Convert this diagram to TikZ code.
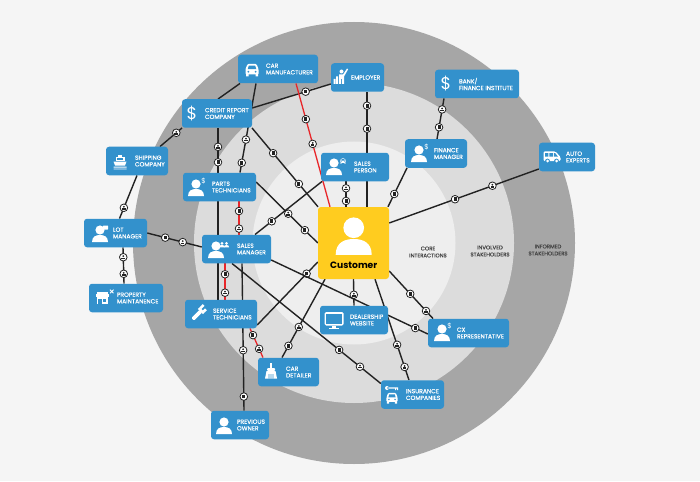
\documentclass[tikz,border=0pt]{standalone}
\usepackage{fontspec}
\setmainfont{Poppins}
\newfontfamily\stakefont[FakeBold=.25]{Poppins}
\usetikzlibrary{
    positioning,
    backgrounds
}
\definecolor{paper}{HTML}{F5F5F5}
\definecolor{ringouter}{HTML}{A6A6A6}
\definecolor{ringmiddle}{HTML}{DCDCDC}
\definecolor{ringinner}{HTML}{EEEEEE}
\definecolor{stakeblue}{HTML}{3391CC}
\definecolor{customeryellow}{HTML}{FFCC1F}
\definecolor{linkdark}{HTML}{222222}
\definecolor{linkred}{HTML}{E8262A}
\definecolor{ringtext}{HTML}{444444}
\tikzset{
    % Stakeholder box
    stake/.style={
        rectangle,
        rounded corners=3pt,
        minimum height=28.5pt,
        fill=stakeblue,
        inner sep=0pt
    },
    % Text inside a stakeholder box
    stake text/.style={
        font=\stakefont\fontsize{6}{6.7}\selectfont,
        text=white,
        align=left,
        inner sep=0pt,
        node distance=28pt
    },
    % Ring caption
    ring text/.style={
        font=\stakefont\fontsize{5.4}{7}\selectfont,
        text=ringtext,
        align=center,
        inner sep=0pt
    },
    % Connectors
    link/.style={line width=1.4pt, color=linkdark},
    redlink/.style={line width=1.3pt, color=linkred},
    % Round markers on the connectors
    badge/.style={
        circle,
        draw=linkdark,
        fill=white,
        line width=.8pt,
        inner sep=0pt,
        minimum size=7.6pt,
        path picture={
            \fill[linkdark] ([xshift=-1.5pt,yshift=-1.8pt]path picture bounding box.center) rectangle ([xshift=1.5pt,yshift=1.8pt]path picture bounding box.center);
        }
    },
    badgep/.style={
        circle,
        draw=linkdark,
        fill=white,
        line width=.8pt,
        inner sep=0pt,
        minimum size=7.6pt,
        path picture={
            \fill[linkdark] ([yshift=1pt]path picture bounding box.center) circle (1pt);
            \fill[linkdark] ([xshift=-1.8pt,yshift=-1.8pt]path picture bounding box.center) rectangle ([xshift=1.8pt,yshift=-.4pt]path picture bounding box.center);
        }
    },
    % Icons
    person/.pic={
        \fill[white] (0,-5) circle (4.6);
        \fill[white] (-8,7) .. controls (-8,1.5) and (-4,0) .. (0,0) .. controls (4,0) and (8,1.5) .. (8,7) -- cycle;
    },
    moneyperson/.pic={
        \pic {person};
        \node[font=\fontsize{7}{7}\selectfont, text=white, inner sep=0pt] (sign) at (7.5,-8) {\$};
    },
    car/.pic={
        \fill[white, rounded corners=1pt] (-6.5,4.5) -- (-6.5,-1) -- (-4.5,-6) -- (4.5,-6) -- (6.5,-1) -- (6.5,4.5) -- cycle;
        \fill[white] (-6,4) rectangle (-3.5,6.5) (3.5,4) rectangle (6,6.5);
        \fill[stakeblue] (-4.3,-.8) -- (-3.2,-4.3) -- (3.2,-4.3) -- (4.3,-.8) -- cycle;
        \fill[stakeblue] (-3.6,1.7) circle (1) (3.6,1.7) circle (1);
    },
    ship/.pic={
        \fill[white] (-2,-7) rectangle (2,-5);
        \fill[white] (-4.5,-5) rectangle (4.5,-1);
        \fill[white] (-6.5,-.5) -- (6.5,-.5) -- (5,3.5) -- (-5,3.5) -- cycle;
        \fill[stakeblue] (-3,-3.7) rectangle (3,-2.5);
        \fill[white] (-6.5,4.7) rectangle (6.5,5.7) (-6.5,6.6) rectangle (6.5,7.4);
    },
    van/.pic={
        \fill[white, rounded corners=1.2pt] (-8.5,4) -- (-8.5,-5.5) -- (3.5,-5.5) -- (8.5,0) -- (8.5,4) -- cycle;
        \fill[stakeblue] (-7,-3.8) rectangle (-3.6,-.3) (-2.6,-3.8) rectangle (.8,-.3);
        \fill[stakeblue] (1.8,-3.8) -- (3.2,-3.8) -- (6,-.3) -- (1.8,-.3) -- cycle;
        \fill[stakeblue] (-4.5,4) circle (2.4) (4.5,4) circle (2.4);
        \fill[white] (-4.5,4) circle (1.5) (4.5,4) circle (1.5);
    },
    worker/.pic={
        \fill[white] (1.5,-5.5) circle (2);
        \fill[white] (-1,-2.5) -- (3,-2.5) -- (7,-8.5) -- (8,-7.5) -- (4,-.5) -- (4,7) -- (2,7) -- (2,2) -- (1,2) -- (1,7) -- (-1,7) -- cycle;
        \fill[white] (-6.5,2) rectangle (-4.5,7) (-3.8,-.5) rectangle (-1.8,7);
    },
    wrench/.pic={
        \begin{scope}[rotate=-45]
            \fill[white, rounded corners=1pt] (-1.8,9) rectangle (1.8,-3);
            \fill[white] (-3.6,-2) rectangle (3.6,-4.5);
            \fill[white] (-3.6,-4.5) rectangle (-1.2,-9);
            \fill[white] (1,-4.5) rectangle (3.6,-7.5);
        \end{scope}
    },
    monitor/.pic={
        \fill[white, rounded corners=1.5pt] (-9.5,-8) rectangle (9.5,5.5);
        \fill[stakeblue] (-7.8,-6.3) rectangle (7.8,3.8);
        \fill[white] (-2,5.5) rectangle (2,7.5);
        \fill[white] (-5,7.5) rectangle (5,9);
    },
    brush/.pic={
        \fill[white] (-1.4,-8) rectangle (1.4,-3);
        \fill[white, rounded corners=1pt] (-4,-3) rectangle (4,0);
        \fill[white] (-4.5,0) -- (4.5,0) -- (6,7.5) -- (-6,7.5) -- cycle;
        \fill[stakeblue] (-2.3,3) rectangle (-1.6,7.5) (-.4,3) rectangle (.4,7.5) (1.6,3) rectangle (2.3,7.5);
    },
    store/.pic={
        \fill[white] (-5.5,-6) rectangle (5.5,-4);
        \fill[white] (-6.5,-4) rectangle (6.5,-1);
        \fill[white] (-5.5,-1) rectangle (5.5,6);
        \fill[stakeblue] (-3.8,.5) rectangle (-.4,6);
        \fill[stakeblue] (1.2,.5) rectangle (4,3.5);
        \draw[white, line width=.9pt] (8,-8.3) -- (11.5,-4.8) (11.5,-8.3) -- (8,-4.8);
    }
}
\begin{document}
\begin{tikzpicture}[x=1pt, y=-1pt]
    % Stakeholders
    \node[stake, minimum width=80pt] (carmaker) at (278,69) {};
    \node[stake text, right=28pt of carmaker.west] (carmakertext) {CAR\\MANUFACTURER};
    \pic at (252,70) {car};

    \node[stake, minimum width=53pt] (employer) at (357.5,77.5) {};
    \node[stake text, right=20pt of employer.west] (employertext) {EMPLOYER};
    \pic at (340,77) {worker};

    \node[stake, minimum width=84pt] (bank) at (477,84) {};
    \node[stake text, right=24pt of bank.west] (banktext) {BANK/\\FINANCE INSTITUTE};
    \node[font=\fontsize{17}{17}\selectfont, text=white, inner sep=0pt] (bankdollar) at (446,84) {\$};

    \node[stake, minimum width=62pt] (finance) at (436,153.5) {};
    \node[stake text, right=29pt of finance.west] (financetext) {FINANCE\\MANAGER};
    \pic (financeicon) at (419,155) {moneyperson};

    \node[stake, minimum width=56pt] (auto) at (567,157) {};
    \node[stake text, right=27pt of auto.west] (autotext) {AUTO\\EXPERTS};
    \pic at (552,157) {van};

    \node[stake, minimum width=68pt] (salesperson) at (355,167) {};
    \node[stake text, right=33pt of salesperson.west] (salespersontext) {SALES\\PERSON};
    \pic at (334,168) {person};
    \pic[scale=.42] at (343,161) {car};

    \node[stake, minimum width=70pt] (credit) at (217,113.5) {};
    \node[stake text, right=23pt of credit.west] (credittext) {CREDIT REPORT\\COMPANY};
    \node[font=\fontsize{17}{17}\selectfont, text=white, inner sep=0pt] (creditdollar) at (192,114) {\$};

    \node[stake, minimum width=62pt] (shipping) at (137,161) {};
    \node[stake text, right=29pt of shipping.west] (shippingtext) {SHIPPING\\COMPANY};
    \pic at (120,162) {ship};

    \node[stake, minimum width=73pt] (parts) at (219.5,187) {};
    \node[stake text, right=29pt of parts.west] (partstext) {PARTS\\TECHNICIANS};
    \pic (partsicon) at (196,189) {moneyperson};

    \node[stake, minimum width=63pt] (lot) at (115.5,233) {};
    \node[stake text, right=29pt of lot.west] (lottext) {LOT\\MANAGER};
    \pic at (100,235) {person};
    \fill[white, rounded corners=.5pt] (103,225.5) rectangle (108,229.5);

    \node[stake, minimum width=69pt] (sales) at (236.5,249) {};
    \node[stake text, right=35pt of sales.west] (salestext) {SALES\\MANAGER};
    \pic at (216,251) {person};
    \pic[scale=.33] at (222,245) {person};
    \pic[scale=.33] at (226.5,245) {person};

    \node[stake, minimum width=74pt] (property) at (126,298) {};
    \node[stake text, right=28pt of property.west] (propertytext) {PROPERTY\\MAINTANENCE};
    \pic at (102,298) {store};

    \node[stake, minimum width=72pt] (service) at (221,314) {};
    \node[stake text, right=28pt of service.west] (servicetext) {SERVICE\\TECHNICIANS};
    \pic at (199,313) {wrench};

    \node[stake, minimum width=61pt] (detailer) at (288.5,372) {};
    \node[stake text, right=28pt of detailer.west] (detailertext) {CAR\\DETAILER};
    \pic at (271,371) {brush};

    \node[stake, minimum width=68pt] (dealership) at (354,320) {};
    \node[stake text, right=30pt of dealership.west] (dealershiptext) {DEALERSHIP\\WEBSITE};
    \pic at (334,320) {monitor};

    \node[stake, minimum width=58pt] (previous) at (240,425) {};
    \node[stake text, right=26pt of previous.west] (previoustext) {PREVIOUS\\OWNER};
    \pic at (224,427) {person};

    \node[stake, minimum width=63pt] (insurance) at (412.5,394.5) {};
    \node[stake text, right=25pt of insurance.west] (insurancetext) {INSURANCE\\COMPANIES};
    \pic[scale=.85] at (392,398) {car};
    \fill[white] (387,388) circle (2) (387,387.4) rectangle (398,388.6) (395,388) rectangle (396,390) (397,388) rectangle (398,390);

    \node[stake, minimum width=81pt] (cx) at (468.5,333) {};
    \node[stake text, right=29pt of cx.west] (cxtext) {CX\\REPRESENTATIVE};
    \pic (cxicon) at (442,334) {moneyperson};

    % Customer in the centre
    \node[rectangle, rounded corners=3pt, fill=customeryellow, minimum width=71pt, minimum height=72pt] (customer) at (353.5,243) {};
    \node[font=\fontsize{9.2}{9.2}\selectfont\bfseries, inner sep=0pt] (customertext) at (353.7,265.7) {Customer};
    \pic[scale=2.25] at (353.7,239) {person};

    % Ring captions
    \node[ring text] (coretext) at (428,252) {CORE\\INTERACTIONS};
    \node[ring text] (involvedtext) at (490,251) {INVOLVED\\STAKEHOLDERS};
    \node[ring text] (informedtext) at (548,250) {INFORMED\\STAKEHOLDERS};

    \begin{scope}[on background layer]
        \fill[paper] (0,0) rectangle (700,481);
        \fill[ringouter] (354,243) circle (221);
        \fill[ringmiddle] (354,243) circle (160);
        \fill[ringinner] (354,243) circle (101.5);

        % Outer links
        \draw[link] ([xshift=-38pt]carmaker.south) -- ([xshift=1pt]credit.north);
        \draw[link] ([xshift=-22pt]carmaker.south) -- node[badgep,pos=.63] (b1) {} node[badge,pos=.89] (b2) {} ([xshift=20.5pt]parts.north);
        \draw[link] ([yshift=5.5pt]credit.east) -- node[badge,pos=.68] (b3) {} ([yshift=-6.5pt]employer.west);
        \draw[link] ([xshift=-35pt]credit.south) -- node[badgep,pos=.26] (b4) {} ([xshift=23pt]shipping.north);
        \draw[link] ([xshift=1pt]credit.south) -- node[badgep,pos=.11] (b5) {} node[badge,pos=.2] (b6) {} ([xshift=-3pt]service.north);
        \draw[link] ([xshift=5.5pt]sales.south) -- node[badgep,pos=.59] (b7) {} node[badge,pos=.905] (b8) {} ([xshift=4pt]previous.north);
        \draw[link] ([xshift=4pt]lot.north) -- node[badgep,pos=.25] (b9) {} (shipping.south);
        \draw[link] ([xshift=7.5pt]lot.south) -- node[badgep,pos=.27] (b10) {} node[badgep,pos=.73] (b11) {} ([xshift=-2pt]property.north);
        \draw[link] (lot.east) -- node[badge,pos=.33] (b12) {} node[badgep,pos=.65] (b13) {} ([yshift=2pt]sales.west);
        \draw[link] ([xshift=-33pt]bank.south) -- node[badgep,pos=.27] (b14) {} node[badge,pos=.71] (b15) {} ([xshift=1pt]finance.north);

        % Red links
        \draw[redlink] ([xshift=18pt]carmaker.south) -- node[badge,pos=.29] (b16) {} node[badgep,pos=.49] (b17) {} ([xshift=-23.5pt]customer.north);
        \draw[redlink] ([xshift=19.5pt]parts.south) -- node[badge,pos=.29] (b18) {} node[badgep,pos=.82] (b19) {} ([xshift=2.5pt]sales.north);
        \draw[redlink] ([xshift=-11.5pt]sales.south) -- node[badge,pos=.3] (b20) {} node[badgep,pos=.81] (b21) {} ([xshift=4pt]service.north);
        \draw[redlink] ([xshift=29pt]service.south) -- node[badge,pos=.23] (b22) {} node[badgep,pos=.7] (b23) {} ([xshift=-25.5pt]detailer.north);

        % Links to the customer
        \draw[link] ([yshift=5pt]parts.east) -- node[badgep,pos=.52] (b24) {} node[badge,pos=.79] (b25) {} (customer.west);
        \draw[link] ([xshift=35pt]credit.south) -- node[badge,pos=.32] (b26) {} node[badge,pos=.71] (b27) {} ([xshift=-35.5pt]customer.north);
        \draw[link] ([xshift=-9pt]salesperson.south) -- node[badgep,pos=.27] (b28) {} node[badge,pos=.77] (b29) {} ([xshift=-7.5pt]customer.north);
        \draw[link] ([xshift=9.5pt]employer.south) -- node[badge,pos=.12] (b30) {} node[badge,pos=.32] (b31) {} ([xshift=13.5pt]customer.north);
        \draw[link] ([xshift=-29pt]finance.south) -- node[badge,pos=.67] (b32) {} ([xshift=34.5pt]customer.north);
        \draw[link] ([yshift=-12pt]auto.west) -- node[badgep,pos=.31] (b33) {} node[badge,pos=.56] (b34) {} ([yshift=20pt]customer.east);
        \draw[link] (customer.south) -- node[badgep,pos=.59] (b35) {} (dealership.north);
        \draw[link] ([yshift=-28pt]customer.east) -- node[badge,pos=.48] (b36) {} node[badgep,pos=.84] (b37) {} ([xshift=-35.5pt]cx.north);
        \draw[link] ([xshift=21.5pt]customer.south) -- node[badgep,pos=.65] (b38) {} node[badgep,pos=.87] (b39) {} ([xshift=-3.5pt]insurance.north);
        \draw[link] ([yshift=-11pt]service.east) -- node[badge,pos=.815] (b40) {} ([yshift=-19pt]customer.west);
        \draw[link] ([xshift=-6.5pt]detailer.north) -- node[badge,pos=.15] (b41) {} node[badgep,pos=.39] (b42) {} ([xshift=-28.5pt]customer.south);

        % Links between stakeholders inside the rings
        \draw[link] ([xshift=-33pt]salesperson.south) -- node[badge,pos=.75] (b43) {} ([xshift=18.5pt]sales.north);
        \draw[link] ([yshift=-11pt]sales.east) -- node[badge,pos=.92] (b44) {} ([yshift=-1pt]cx.west);
        \draw[link] ([xshift=-4.5pt]sales.south) -- node[badge,pos=.72] (b45) {} node[badgep,pos=.86] (b46) {} ([yshift=11pt]insurance.west);
    \end{scope}
\end{tikzpicture}
\end{document}
